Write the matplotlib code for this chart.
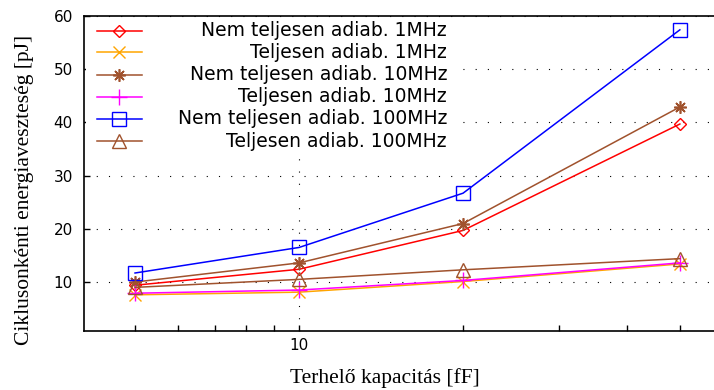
import matplotlib
matplotlib.use("Agg")
import matplotlib.pyplot as plt
from matplotlib.lines import Line2D
from matplotlib.patches import Rectangle
from matplotlib.ticker import NullFormatter, FixedLocator

# ---- data ----
capacitance = [5, 10, 20, 50]
nem_1mhz = [9.4, 12.4, 19.7, 39.7]
telj_1mhz = [7.6, 8.1, 10.1, 13.4]
nem_10mhz = [10.0, 13.6, 21.0, 42.9]
telj_10mhz = [7.9, 8.5, 10.3, 13.6]
nem_100mhz = [11.7, 16.5, 26.7, 57.4]
telj_100mhz = [9.0, 10.5, 12.3, 14.4]
labels = ["Nem teljesen adiab. 1MHz", "Teljesen adiab. 1MHz",
          "Nem teljesen adiab. 10MHz", "Teljesen adiab. 10MHz",
          "Nem teljesen adiab. 100MHz", "Teljesen adiab. 100MHz"]
x_major_ticks = [10]
x_minor_ticks = [5, 6, 7, 8, 9, 20, 30, 40, 50]
y_ticks = [10, 20, 30, 40, 50, 60]

W, H = 714, 390
fig = plt.figure(figsize=(W / 100, H / 100), dpi=100)

def fx(px):
    return px / W

def fy(py):
    return 1 - py / H

left, right, top, bottom = 84, 723, 16, 331
ax = fig.add_axes([fx(left), fy(bottom), fx(right) - fx(left), fy(top) - fy(bottom)])

brown = "#A0522D"
styles = [
    dict(color="#FF0000", marker="D", ms=6, mfc="none", mew=1.0),
    dict(color="#FFA500", marker="x", ms=8, mew=1.0),
    dict(color=brown, marker=(8, 2, 0), ms=9, mew=1.2),
    dict(color="#FF00FF", marker="+", ms=11, mew=1.0),
    dict(color="#0000FF", marker="s", ms=9.5, mfc="none", mew=1.0),
    dict(color=brown, marker="^", ms=10, mfc="none", mew=1.0),
]
series = [nem_1mhz, telj_1mhz, nem_10mhz, telj_10mhz, nem_100mhz, telj_100mhz]

for vals, st in zip(series, styles):
    ax.plot(capacitance, vals, lw=1.1, **st)

ax.set_xscale("log")
ax.set_xlim(4.03, 60)
ax.set_ylim(0.8, 60)
ax.xaxis.set_major_locator(FixedLocator(x_major_ticks))
ax.xaxis.set_minor_locator(FixedLocator(x_minor_ticks))
ax.xaxis.set_minor_formatter(NullFormatter())
ax.set_xticklabels([str(t) for t in x_major_ticks])
ax.set_yticks(y_ticks)
ax.tick_params(axis="both", which="both", direction="in", length=4, width=1,
               labelsize=11, top=False, right=False)
ax.tick_params(axis="y", pad=8)
ax.tick_params(axis="x", pad=5)
for lab in ax.get_xticklabels() + ax.get_yticklabels():
    lab.set_family("DejaVu Sans")

ax.grid(True, which="major", color="black", linestyle=(0, (1, 10)), linewidth=0.8)
for s in ax.spines.values():
    s.set_linewidth(1.2)
ax.spines["right"].set_visible(False)

# legend (manual, right-aligned text)
ax.add_patch(Rectangle((fx(86), fy(152)), fx(455) - fx(86), fy(20) - fy(152),
                       transform=fig.transFigure, facecolor="white",
                       edgecolor="none", zorder=2.5))
rows = [31, 52, 75, 97, 119, 141]
for yrow, st, lab in zip(rows, styles, labels):
    ln = Line2D([fx(97), fx(119.5), fx(142)], [fy(yrow)] * 3, transform=fig.transFigure,
                lw=1.1, markevery=[1], **st)
    ln.set_zorder(3)
    ax.add_line(ln)
    ln.set_clip_on(False)
    fig.text(fx(447), fy(yrow), lab, ha="right", va="center", fontsize=13.5,
             family="DejaVu Sans", zorder=4)

fig.text(fx(385), fy(383), "Terhelő kapacitás [fF]", ha="center", va="baseline",
         fontsize=15.5, family="Liberation Serif")
fig.text(fx(25), fy(190), "Ciklusonkénti energiaveszteség [pJ]", ha="center", va="center",
         rotation=90, fontsize=15.5, family="Liberation Serif")

fig.savefig("out.png", dpi=100)
